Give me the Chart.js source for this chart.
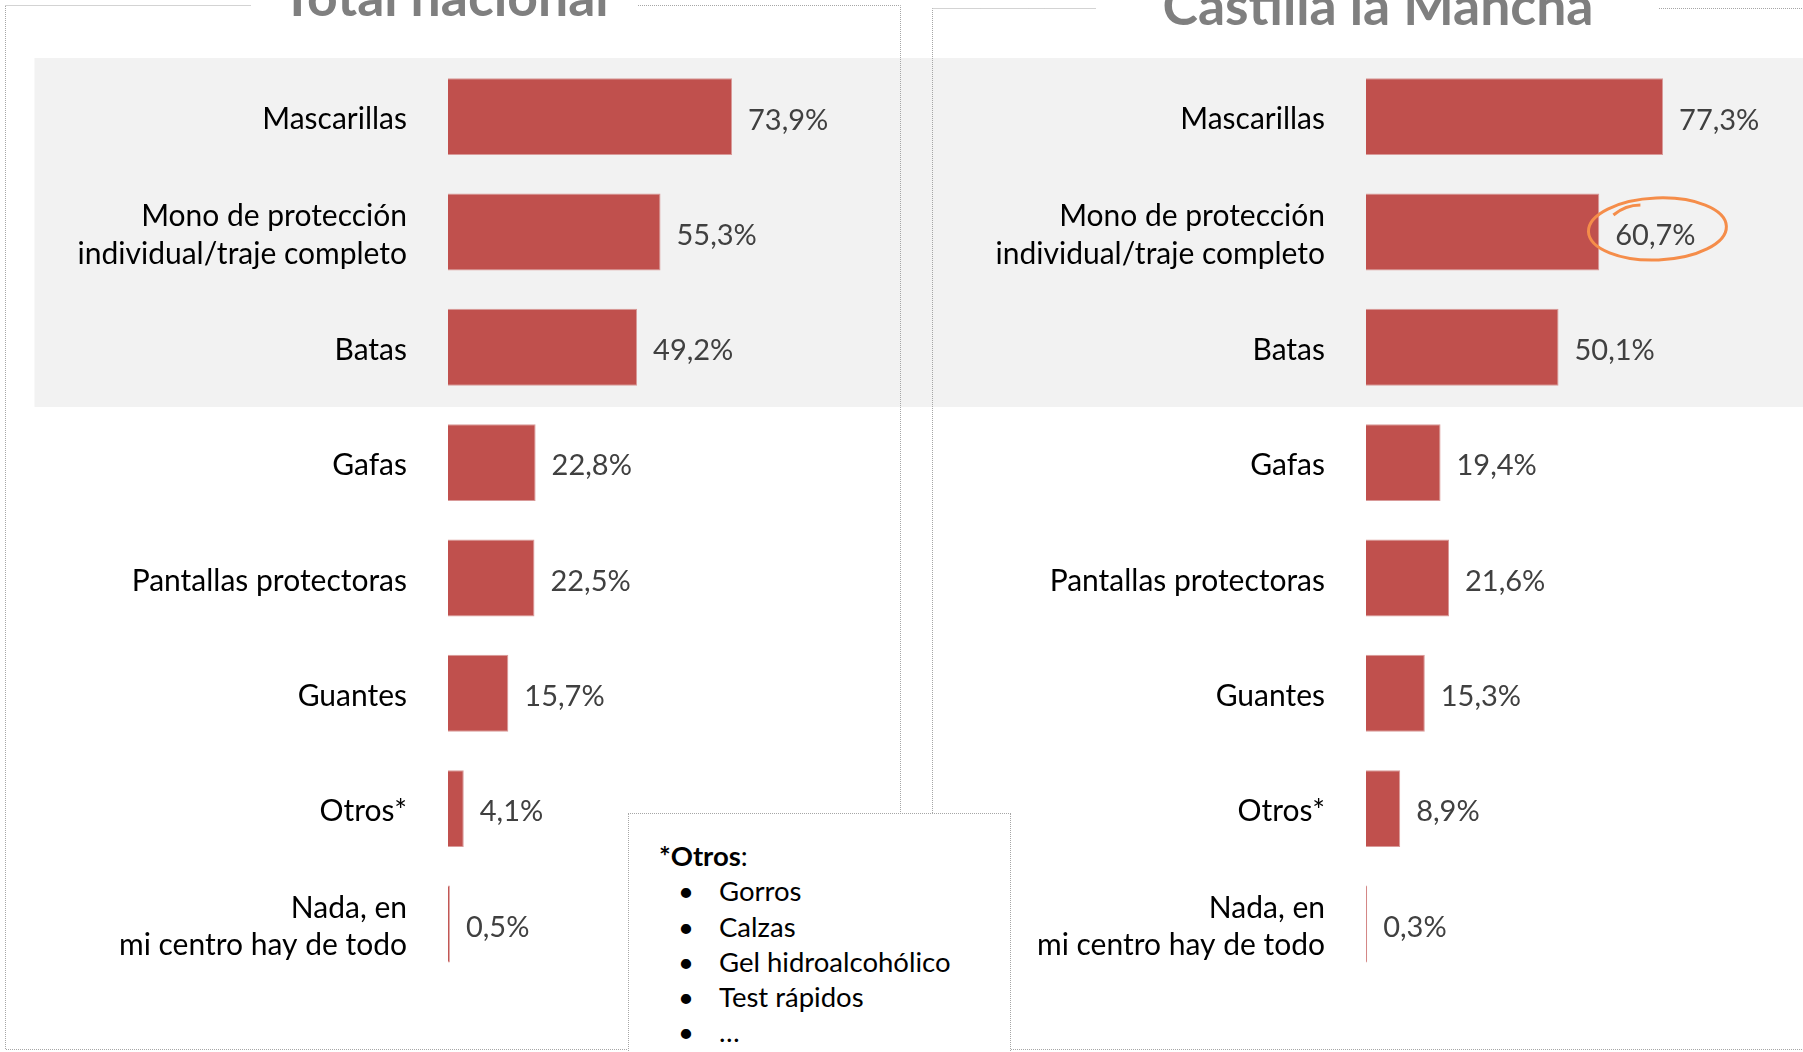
<!DOCTYPE html>
<html lang="es">
<head>
<meta charset="utf-8">
<script src="https://cdn.jsdelivr.net/npm/chart.js"></script>
<style>
  html, body { margin: 0; padding: 0; background: #fff; }
  body { width: 1803px; height: 1052px; position: relative; overflow: hidden; font-family: Lato, sans-serif; }
  canvas { position: absolute; top: 0; }
  #izq { left: 0; }
  #der { left: 920px; }
  .nota {
    position: absolute; left: 628px; top: 813px; width: 383px; height: 260px;
    box-sizing: border-box; background: #fff; border: 1px dotted #a6a6a6;
    padding: 24px 0 0 30px; font-size: 27.5px; line-height: 35.3px; color: #000;
  }
  .nota ul { margin: 0; padding: 0; list-style: none; }
  .nota li { position: relative; padding-left: 60px; }
  .nota li::before { content: '•'; position: absolute; left: 19px; }
</style>
</head>
<body>
<canvas id="izq" width="920" height="1052"></canvas>
<canvas id="der" width="883" height="1052"></canvas>
<div class="nota">
  <div><b>*Otros</b>:</div>
  <ul>
    <li>Gorros</li>
    <li>Calzas</li>
    <li>Gel hidroalcohólico</li>
    <li>Test rápidos</li>
    <li>…</li>
  </ul>
</div>
<script>
// Datos
const categorias = [
  'Mascarillas',
  ['Mono de protección', 'individual/traje completo'],
  'Batas',
  'Gafas',
  'Pantallas protectoras',
  'Guantes',
  'Otros*',
  ['Nada, en', 'mi centro hay de todo']
];
const totalNacional = [73.9, 55.3, 49.2, 22.8, 22.5, 15.7, 4.1, 0.5];
const castillaLaMancha = [77.3, 60.7, 50.1, 19.4, 21.6, 15.3, 8.9, 0.3];

const ROJO = '#c0504d';
const FUENTE = 'Lato';
const TAM = 30;

function fmt(v) {
  return v.toFixed(1).replace('.', ',') + '%';
}

// banda gris detras de las tres primeras categorias
const banda = {
  id: 'banda',
  beforeDraw(chart, args, opts) {
    const y = chart.scales.y;
    const paso = y.getPixelForValue(1) - y.getPixelForValue(0);
    const top = y.getPixelForValue(0) - paso / 2 - 1;
    const bottom = y.getPixelForValue(2) + paso / 2 + 2;
    const ctx = chart.ctx;
    ctx.save();
    ctx.fillStyle = '#f2f2f2';
    ctx.fillRect(opts.desde, top, chart.width - opts.desde, bottom - top);
    ctx.restore();
  }
};

// marco punteado con hueco para el titulo
const marco = {
  id: 'marco',
  afterDraw(chart, args, opts) {
    const ctx = chart.ctx;
    const { x0, y0, x1, y1, hueco } = opts;
    ctx.save();
    ctx.strokeStyle = '#a6a6a6';
    ctx.lineWidth = 1;
    ctx.setLineDash([1, 1]);
    ctx.beginPath();
    ctx.moveTo(x0, y0); ctx.lineTo(hueco[0], y0);
    ctx.moveTo(hueco[1], y0); ctx.lineTo(x1, y0);
    ctx.lineTo(x1, y1); ctx.lineTo(x0, y1); ctx.lineTo(x0, y0);
    ctx.stroke();
    ctx.setLineDash([]);
    ctx.font = 'bold 53.5px ' + FUENTE;
    ctx.fillStyle = '#7f7f7f';
    ctx.textAlign = 'center';
    ctx.textBaseline = 'alphabetic';
    ctx.fillText(opts.titulo, opts.tx, opts.ty);
    ctx.restore();
  }
};

// etiquetas de valor y circulo naranja
const etiquetas = {
  id: 'etiquetas',
  afterDatasetsDraw(chart, args, opts) {
    const ctx = chart.ctx;
    const meta = chart.getDatasetMeta(0);
    const datos = chart.data.datasets[0].data;
    ctx.save();
    ctx.font = '29px ' + FUENTE;
    ctx.fillStyle = '#404040';
    ctx.textAlign = 'left';
    ctx.textBaseline = 'middle';
    meta.data.forEach((bar, i) => {
      const txt = fmt(datos[i]);
      ctx.fillText(txt, bar.x + 16, bar.y + 3.5);
      if (opts.resaltar === i) {
        const w = ctx.measureText(txt).width;
        const cx = bar.x + 16 + w / 2 + 2;
        const cy = bar.y - 3;
        ctx.save();
        ctx.strokeStyle = '#f58d4a';
        ctx.lineWidth = 3;
        ctx.beginPath();
        ctx.ellipse(cx, cy, 69, 31, -0.04, 0, Math.PI * 2);
        ctx.stroke();
        ctx.beginPath();
        ctx.moveTo(cx - 44, cy - 14);
        ctx.quadraticCurveTo(cx - 32, cy - 24, cx - 17, cy - 24);
        ctx.stroke();
        ctx.restore();
      }
    });
    ctx.restore();
  }
};

function crearGrafico(id, valores, cfg) {
  return new Chart(document.getElementById(id), {
    type: 'bar',
    data: {
      labels: categorias,
      datasets: [{
        data: valores,
        backgroundColor: ROJO,
        borderColor: '#d99a99',
        borderWidth: 1,
        barPercentage: 0.667,
        categoryPercentage: 1
      }]
    },
    options: {
      indexAxis: 'y',
      responsive: false,
      animation: false,
      layout: { padding: { top: cfg.arriba, bottom: 129.4 - cfg.arriba, left: 0, right: cfg.derecha } },
      scales: {
        x: { display: false, min: 0, max: 100 },
        y: {
          grid: { display: false, drawTicks: false },
          border: { display: false },
          ticks: {
            color: '#000',
            padding: 41,
            labelOffset: 3,
            font: { family: FUENTE, size: TAM, lineHeight: 1.257 }
          },
          afterFit(scale) {
            scale.width = cfg.eje;
            scale.paddingTop = 0;
            scale.paddingBottom = 0;
          }
        }
      },
      plugins: {
        legend: { display: false },
        tooltip: { enabled: false },
        banda: { desde: cfg.banda },
        marco: cfg.marco,
        etiquetas: { resaltar: cfg.resaltar }
      }
    },
    plugins: [banda, marco, etiquetas]
  });
}

crearGrafico('izq', totalNacional, {
  eje: 448,
  arriba: 59,
  derecha: 87.7,
  banda: 34.5,
  resaltar: -1,
  marco: { x0: 5.5, y0: 5.5, x1: 900.5, y1: 1049.5, hueco: [251, 638],
           titulo: 'Total nacional', tx: 445, ty: 16 }
});

crearGrafico('der', castillaLaMancha, {
  eje: 446,
  arriba: 59,
  derecha: 52.7,
  banda: 0,
  resaltar: 1,
  marco: { x0: 12.5, y0: 8.5, x1: 1000, y1: 1049.5, hueco: [176, 739],
           titulo: 'Castilla la Mancha', tx: 458, ty: 25 }
});
</script>
</body>
</html>
